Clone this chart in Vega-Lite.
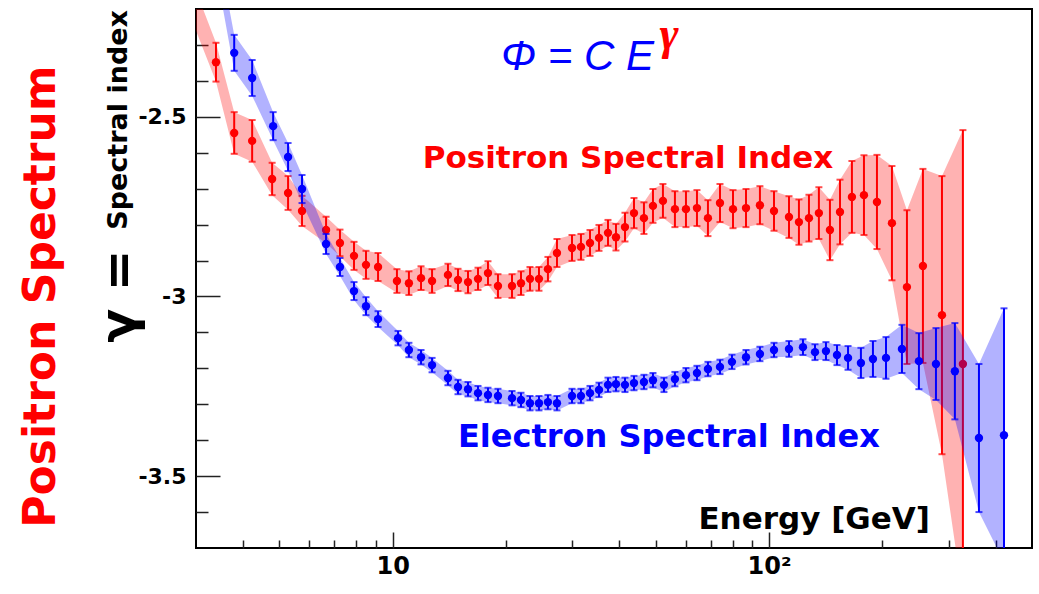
{
  "$schema": "https://vega.github.io/schema/vega-lite/v6.json",
  "width": 836,
  "height": 539,
  "autosize": {"type": "none"},
  "padding": {"left": 196, "top": 9, "right": 7, "bottom": 46},
  "background": "white",
  "config": {"view": {"stroke": "black", "strokeWidth": 2}, "font": "DejaVu Sans"},
  "resolve": {"axis": {"x": "independent", "y": "independent"}},
  "datasets": {
    "positron": [
      {"E": 2.89, "idx": -2.161, "err": 0.056},
      {"E": 3.39, "idx": -2.348, "err": 0.054},
      {"E": 3.79, "idx": -2.545, "err": 0.058},
      {"E": 4.23, "idx": -2.567, "err": 0.058},
      {"E": 4.78, "idx": -2.673, "err": 0.045},
      {"E": 5.27, "idx": -2.712, "err": 0.047},
      {"E": 5.74, "idx": -2.762, "err": 0.042},
      {"E": 6.65, "idx": -2.815, "err": 0.037},
      {"E": 7.24, "idx": -2.851, "err": 0.037},
      {"E": 7.89, "idx": -2.887, "err": 0.039},
      {"E": 8.49, "idx": -2.912, "err": 0.039},
      {"E": 9.14, "idx": -2.918, "err": 0.039},
      {"E": 10.26, "idx": -2.957, "err": 0.033},
      {"E": 11.04, "idx": -2.963, "err": 0.033},
      {"E": 11.89, "idx": -2.949, "err": 0.033},
      {"E": 12.72, "idx": -2.957, "err": 0.033},
      {"E": 14.02, "idx": -2.94, "err": 0.031},
      {"E": 14.91, "idx": -2.954, "err": 0.031},
      {"E": 15.85, "idx": -2.96, "err": 0.031},
      {"E": 16.85, "idx": -2.951, "err": 0.031},
      {"E": 17.91, "idx": -2.935, "err": 0.033},
      {"E": 19.04, "idx": -2.971, "err": 0.033},
      {"E": 20.75, "idx": -2.971, "err": 0.033},
      {"E": 21.92, "idx": -2.963, "err": 0.033},
      {"E": 23.16, "idx": -2.951, "err": 0.033},
      {"E": 24.47, "idx": -2.951, "err": 0.033},
      {"E": 25.85, "idx": -2.924, "err": 0.034},
      {"E": 27.32, "idx": -2.879, "err": 0.039},
      {"E": 29.95, "idx": -2.865, "err": 0.036},
      {"E": 31.64, "idx": -2.862, "err": 0.036},
      {"E": 33.44, "idx": -2.851, "err": 0.036},
      {"E": 35.33, "idx": -2.837, "err": 0.036},
      {"E": 37.33, "idx": -2.823, "err": 0.036},
      {"E": 39.2, "idx": -2.835, "err": 0.037},
      {"E": 41.42, "idx": -2.807, "err": 0.04},
      {"E": 43.77, "idx": -2.768, "err": 0.042},
      {"E": 46.52, "idx": -2.782, "err": 0.044},
      {"E": 49.16, "idx": -2.748, "err": 0.047},
      {"E": 52.25, "idx": -2.734, "err": 0.047},
      {"E": 56.23, "idx": -2.757, "err": 0.05},
      {"E": 60.16, "idx": -2.757, "err": 0.05},
      {"E": 64.35, "idx": -2.754, "err": 0.05},
      {"E": 68.82, "idx": -2.782, "err": 0.05},
      {"E": 74.08, "idx": -2.74, "err": 0.053},
      {"E": 80.23, "idx": -2.757, "err": 0.053},
      {"E": 86.87, "idx": -2.754, "err": 0.053},
      {"E": 94.6, "idx": -2.746, "err": 0.053},
      {"E": 103.1, "idx": -2.762, "err": 0.055},
      {"E": 113.0, "idx": -2.779, "err": 0.058},
      {"E": 120.1, "idx": -2.793, "err": 0.063},
      {"E": 127.7, "idx": -2.782, "err": 0.065},
      {"E": 135.7, "idx": -2.768, "err": 0.072},
      {"E": 145.2, "idx": -2.815, "err": 0.084},
      {"E": 154.4, "idx": -2.765, "err": 0.09},
      {"E": 166.1, "idx": -2.723, "err": 0.1},
      {"E": 178.8, "idx": -2.718, "err": 0.111},
      {"E": 193.6, "idx": -2.737, "err": 0.131},
      {"E": 212.2, "idx": -2.796, "err": 0.159},
      {"E": 232.6, "idx": -2.974, "err": 0.214},
      {"E": 256.5, "idx": -2.915, "err": 0.27},
      {"E": 288.2, "idx": -3.052, "err": 0.387},
      {"E": 327.6, "idx": -3.188, "err": 0.651}
    ],
    "electron": [
      {"E": 3.39, "idx": -2.047, "err": 0.045},
      {"E": 3.79, "idx": -2.322, "err": 0.05},
      {"E": 4.23, "idx": -2.392, "err": 0.05},
      {"E": 4.81, "idx": -2.526, "err": 0.039},
      {"E": 5.27, "idx": -2.612, "err": 0.039},
      {"E": 5.74, "idx": -2.701, "err": 0.039},
      {"E": 6.65, "idx": -2.854, "err": 0.028},
      {"E": 7.24, "idx": -2.918, "err": 0.025},
      {"E": 7.89, "idx": -2.985, "err": 0.025},
      {"E": 8.49, "idx": -3.027, "err": 0.025},
      {"E": 9.14, "idx": -3.063, "err": 0.022},
      {"E": 10.33, "idx": -3.116, "err": 0.02},
      {"E": 11.04, "idx": -3.149, "err": 0.02},
      {"E": 11.89, "idx": -3.169, "err": 0.02},
      {"E": 12.72, "idx": -3.191, "err": 0.02},
      {"E": 14.02, "idx": -3.227, "err": 0.02},
      {"E": 14.91, "idx": -3.252, "err": 0.02},
      {"E": 15.85, "idx": -3.258, "err": 0.02},
      {"E": 16.85, "idx": -3.269, "err": 0.02},
      {"E": 17.91, "idx": -3.274, "err": 0.02},
      {"E": 19.04, "idx": -3.277, "err": 0.02},
      {"E": 20.75, "idx": -3.283, "err": 0.02},
      {"E": 21.92, "idx": -3.288, "err": 0.02},
      {"E": 23.16, "idx": -3.297, "err": 0.02},
      {"E": 24.47, "idx": -3.297, "err": 0.02},
      {"E": 25.85, "idx": -3.294, "err": 0.02},
      {"E": 27.32, "idx": -3.297, "err": 0.02},
      {"E": 29.95, "idx": -3.277, "err": 0.02},
      {"E": 31.64, "idx": -3.277, "err": 0.02},
      {"E": 33.44, "idx": -3.269, "err": 0.02},
      {"E": 35.33, "idx": -3.26, "err": 0.02},
      {"E": 37.33, "idx": -3.246, "err": 0.02},
      {"E": 39.2, "idx": -3.244, "err": 0.02},
      {"E": 41.42, "idx": -3.246, "err": 0.02},
      {"E": 43.77, "idx": -3.241, "err": 0.02},
      {"E": 46.52, "idx": -3.238, "err": 0.02},
      {"E": 49.16, "idx": -3.233, "err": 0.02},
      {"E": 52.58, "idx": -3.246, "err": 0.02},
      {"E": 56.23, "idx": -3.23, "err": 0.02},
      {"E": 60.16, "idx": -3.219, "err": 0.02},
      {"E": 64.35, "idx": -3.213, "err": 0.02},
      {"E": 68.82, "idx": -3.202, "err": 0.02},
      {"E": 74.08, "idx": -3.196, "err": 0.02},
      {"E": 79.72, "idx": -3.182, "err": 0.02},
      {"E": 86.87, "idx": -3.169, "err": 0.02},
      {"E": 94.6, "idx": -3.16, "err": 0.02},
      {"E": 103.1, "idx": -3.149, "err": 0.02},
      {"E": 113.0, "idx": -3.146, "err": 0.022},
      {"E": 123.1, "idx": -3.141, "err": 0.022},
      {"E": 132.5, "idx": -3.155, "err": 0.022},
      {"E": 141.7, "idx": -3.152, "err": 0.025},
      {"E": 151.6, "idx": -3.163, "err": 0.028},
      {"E": 162.2, "idx": -3.171, "err": 0.033},
      {"E": 175.5, "idx": -3.185, "err": 0.042},
      {"E": 188.9, "idx": -3.174, "err": 0.05},
      {"E": 204.6, "idx": -3.171, "err": 0.058},
      {"E": 225.6, "idx": -3.146, "err": 0.067},
      {"E": 250.3, "idx": -3.18, "err": 0.078},
      {"E": 277.8, "idx": -3.188, "err": 0.1},
      {"E": 311.9, "idx": -3.208, "err": 0.134},
      {"E": 361.4, "idx": -3.394, "err": 0.206},
      {"E": 421.2, "idx": -3.386, "err": 0.353}
    ]
  },
  "encoding": {
    "x": {
      "field": "E",
      "type": "quantitative",
      "scale": {"type": "log", "domain": [3, 500], "nice": false},
      "axis": null
    },
    "y": {
      "field": "idx",
      "type": "quantitative",
      "scale": {"domain": [-3.7, -2.2], "nice": false, "zero": false},
      "axis": null
    }
  },
  "layer": [
    {
      "data": {"name": "positron"},
      "mark": {"type": "errorband", "color": "#ff0000", "band": {"opacity": 0.3}, "clip": true},
      "encoding": {"yError": {"field": "err"}}
    },
    {
      "data": {"name": "positron"},
      "mark": {"type": "errorbar", "color": "#ff0000", "ticks": {"size": 7, "thickness": 2}, "rule": {"strokeWidth": 2}, "clip": true},
      "encoding": {"yError": {"field": "err"}}
    },
    {
      "data": {"name": "positron"},
      "mark": {"type": "circle", "color": "#ff0000", "size": 70, "opacity": 1, "clip": true},
      "encoding": {
        "x": {
          "field": "E",
          "type": "quantitative",
          "scale": {"type": "log", "domain": [3, 500], "nice": false},
          "axis": {
            "orient": "bottom",
            "title": null,
            "values": [10, 100],
            "labelExpr": "datum.value == 10 ? '10' : '10²'",
            "tickSize": 16,
            "offset": -16,
            "tickColor": "#222222",
            "tickWidth": 1.5,
            "domain": false,
            "grid": false,
            "labelOverlap": false,
            "labelFlush": false,
            "labelFont": "DejaVu Sans",
            "labelFontWeight": "bold",
            "labelFontSize": 24,
            "labelColor": "black",
            "labelPadding": 6
          }
        },
        "y": {
          "field": "idx",
          "type": "quantitative",
          "scale": {"domain": [-3.7, -2.2], "nice": false, "zero": false},
          "axis": {
            "orient": "left",
            "title": null,
            "values": [-3.5, -3, -2.5],
            "labelExpr": "datum.value == -2.5 ? '-2.5' : datum.value == -3 ? '-3' : '-3.5'",
            "tickSize": 24,
            "offset": -24,
            "tickColor": "#222222",
            "tickWidth": 1.5,
            "domain": false,
            "grid": false,
            "labelOverlap": false,
            "labelFlush": false,
            "labelFont": "DejaVu Sans",
            "labelFontWeight": "bold",
            "labelFontSize": 22,
            "labelColor": "black",
            "labelPadding": 10
          }
        }
      }
    },
    {
      "data": {"name": "electron"},
      "mark": {"type": "errorband", "color": "#0000ff", "band": {"opacity": 0.3}, "clip": true},
      "encoding": {"yError": {"field": "err"}}
    },
    {
      "data": {"name": "electron"},
      "mark": {"type": "errorbar", "color": "#0000ff", "ticks": {"size": 7, "thickness": 2}, "rule": {"strokeWidth": 2}, "clip": true},
      "encoding": {"yError": {"field": "err"}}
    },
    {
      "data": {"name": "electron"},
      "mark": {"type": "circle", "color": "#0000ff", "size": 70, "opacity": 1, "clip": true},
      "encoding": {
        "x": {
          "field": "E",
          "type": "quantitative",
          "scale": {"type": "log", "domain": [3, 500], "nice": false},
          "axis": {
            "orient": "bottom",
            "title": null,
            "values": [4, 5, 6, 7, 8, 9, 20, 30, 40, 50, 60, 70, 80, 90, 200, 300, 400],
            "labels": false,
            "tickSize": 8,
            "offset": -8,
            "tickColor": "#222222",
            "tickWidth": 1.5,
            "domain": false,
            "grid": false
          }
        },
        "y": {
          "field": "idx",
          "type": "quantitative",
          "scale": {"domain": [-3.7, -2.2], "nice": false, "zero": false},
          "axis": {
            "orient": "left",
            "title": null,
            "values": [-3.6, -3.4, -3.3, -3.2, -3.1, -2.9, -2.8, -2.7, -2.6, -2.4, -2.3],
            "labels": false,
            "tickSize": 12,
            "offset": -12,
            "tickColor": "#222222",
            "tickWidth": 1.5,
            "domain": false,
            "grid": false
          }
        }
      }
    },
    {
      "data": {"values": [{"E": 42.2, "idx": -2.6425, "label": "Positron Spectral Index"}]},
      "mark": {"type": "text", "color": "#ff0000", "font": "DejaVu Sans", "fontWeight": "bold", "fontSize": 31, "align": "center", "baseline": "alphabetic"},
      "encoding": {"text": {"field": "label"}}
    },
    {
      "data": {"values": [{"E": 54.2, "idx": -3.419, "label": "Electron Spectral Index"}]},
      "mark": {"type": "text", "color": "#0000ff", "font": "DejaVu Sans", "fontWeight": "bold", "fontSize": 32, "align": "center", "baseline": "alphabetic"},
      "encoding": {"text": {"field": "label"}}
    },
    {
      "data": {"values": [{"E": 267.8, "idx": -3.647, "label": "Energy [GeV]"}]},
      "mark": {"type": "text", "color": "black", "font": "DejaVu Sans", "fontWeight": "bold", "fontSize": 31, "align": "right", "baseline": "alphabetic"},
      "encoding": {"text": {"field": "label"}}
    },
    {
      "data": {"values": [{"E": 49.45, "idx": -2.37, "label": "Φ = C E"}]},
      "mark": {"type": "text", "color": "#0000ff", "font": "Liberation Sans", "fontStyle": "italic", "fontSize": 42, "align": "right", "baseline": "alphabetic"},
      "encoding": {"text": {"field": "label"}}
    },
    {
      "data": {"values": [{"E": 51.2, "idx": -2.31, "label": "γ"}]},
      "mark": {"type": "text", "color": "#ff0000", "font": "Liberation Serif", "fontStyle": "italic", "fontWeight": "bold", "fontSize": 46, "align": "left", "baseline": "alphabetic"},
      "encoding": {"text": {"field": "label"}}
    },
    {
      "data": {"values": [{"E": 1.266, "idx": -3.0, "label": "Positron Spectrum"}]},
      "mark": {"type": "text", "color": "#ff0000", "font": "DejaVu Sans", "fontWeight": "bold", "fontSize": 44, "angle": 270, "align": "center", "baseline": "alphabetic"},
      "encoding": {"text": {"field": "label"}}
    },
    {
      "data": {"values": [{"E": 2.065, "idx": -2.999, "label": "γ ="}]},
      "mark": {"type": "text", "color": "black", "font": "DejaVu Sans", "fontWeight": "bold", "fontSize": 50, "angle": 270, "align": "center", "baseline": "alphabetic"},
      "encoding": {"text": {"field": "label"}}
    },
    {
      "data": {"values": [{"E": 1.966, "idx": -2.2028, "label": "Spectral index"}]},
      "mark": {"type": "text", "color": "black", "font": "DejaVu Sans", "fontWeight": "bold", "fontSize": 27, "angle": 270, "align": "right", "baseline": "alphabetic"},
      "encoding": {"text": {"field": "label"}}
    }
  ]
}
